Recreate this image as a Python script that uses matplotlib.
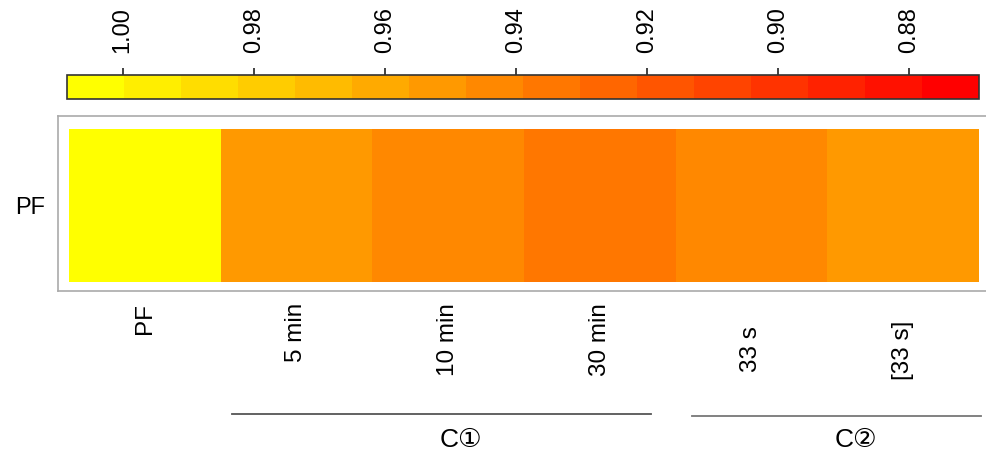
import matplotlib
matplotlib.use("Agg")
import matplotlib.pyplot as plt
import numpy as np
from matplotlib.colors import Normalize
from matplotlib.cm import ScalarMappable
from matplotlib.lines import Line2D

# data
columns = ["PF", "5 min", "10 min", "30 min", "33 s", "[33 s]"]
rows = ["PF"]
values = [1.000, 0.952, 0.943, 0.934, 0.944, 0.951]
cbar_ticks = [1.00, 0.98, 0.96, 0.94, 0.92, 0.90, 0.88]
vmin, vmax = 0.8693, 1.0085
groups = ["C\u2460", "C\u2461"]

W, H = 987, 453


def fx(px):
    return px / W


def fy(py):
    return 1 - py / H


def main():
    plt.rcParams["font.family"] = ["Liberation Sans", "DejaVu Sans"]
    fig = plt.figure(figsize=(W / 100, H / 100), dpi=100)

    cmap = plt.get_cmap("autumn").resampled(16)
    norm = Normalize(vmin=vmin, vmax=vmax)

    # colorbar strip on top
    cax = fig.add_axes([fx(67), fy(99), fx(979) - fx(67), fy(75) - fy(99)])
    cb = fig.colorbar(ScalarMappable(norm=norm, cmap=cmap), cax=cax,
                      orientation="horizontal", ticks=cbar_ticks,
                      format="%.2f")
    cax.invert_xaxis()
    cax.xaxis.set_ticks_position("top")
    cax.tick_params(axis="x", direction="out", length=5, width=1.2,
                    color="#222222", pad=11, labelsize=17, labelrotation=90)
    cb.outline.set_edgecolor("#333333")
    cb.outline.set_linewidth(1.2)

    # heatmap
    left, right, top, bottom = 58, 995, 116, 291
    ax = fig.add_axes([fx(left), fy(bottom), fx(right) - fx(left), fy(top) - fy(bottom)])
    n = len(columns)
    colw = (979 - 69) / n
    cellh = 282 - 129
    data = np.array([values])
    ax.pcolormesh(np.arange(n + 1), [0, 1], data, cmap=cmap, norm=norm)
    ax.set_xlim(-(69 - left) / colw, n + (right - 979) / colw)
    ax.set_ylim(-(bottom - 282) / cellh, 1 + (129 - top) / cellh)
    ax.set_xticks([])
    ax.set_yticks([0.5])
    ax.set_yticklabels(rows, fontsize=17)
    ax.tick_params(axis="y", length=0, pad=9)
    for s in ["top", "bottom", "left"]:
        ax.spines[s].set_color("#aaaaaa")
        ax.spines[s].set_linewidth(1.2)
    ax.spines["right"].set_visible(False)

    # column labels below, rotated
    label_tops = [303, 303, 303, 303, 326, 321]
    for i, (lab, yt) in enumerate(zip(columns, label_tops)):
        xc = 69 + (i + 0.5) * colw
        fig.text(fx(xc), fy(yt), lab, rotation=90, ha="center", va="top",
                 fontsize=17.5)

    # group brackets
    spans = [(232, 651, 414, "#555555"), (692, 981, 416, "#777777")]
    for (x0, x1, yl, c), g in zip(spans, groups):
        fig.add_artist(Line2D([fx(x0), fx(x1)], [fy(yl), fy(yl)],
                              color=c, lw=1.3, transform=fig.transFigure))
        fig.text(fx((x0 + x1) / 2 + 19), fy(440), g, ha="center", va="center",
                 fontsize=19, family=["Liberation Sans", "DejaVu Sans"])

    fig.savefig("out.png", dpi=100)


if __name__ == "__main__":
    main()
